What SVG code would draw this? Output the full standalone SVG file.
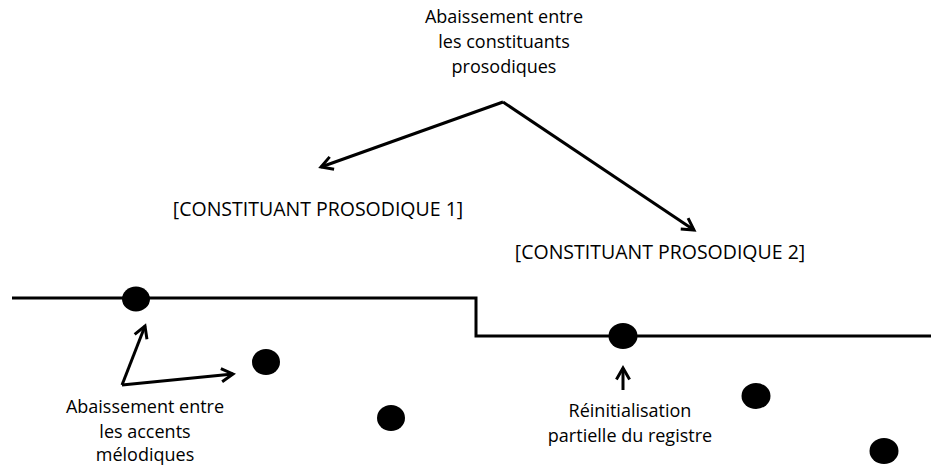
<svg xmlns="http://www.w3.org/2000/svg" width="931" height="465" viewBox="0 0 931 465">
<style>
text{font-family:"Open Sans","Noto Sans",sans-serif;font-size:18px;fill:#000;text-anchor:middle}
.cp{font-size:19.5px}
.ln{fill:none;stroke:#000;stroke-width:3}
.arr{fill:none;stroke:#000;stroke-width:3;marker-end:url(#ah)}
.dot{fill:#000}
</style>
<defs>
<marker id="ah" viewBox="0 0 10 10" refX="8" refY="5" markerWidth="5.5" markerHeight="5.5" orient="auto" markerUnits="strokeWidth">
<path d="M1,1 L8,5 L1,9" fill="none" stroke="#000" stroke-width="1.8"/>
</marker>
</defs>
<g id="label-top">
<text x="504" y="23">Abaissement entre</text>
<text x="504" y="48">les constituants</text>
<text x="504" y="73">prosodiques</text>
</g>
<g id="cp1"><text class="cp" x="318" y="216">[CONSTITUANT PROSODIQUE 1]</text></g>
<g id="cp2"><text class="cp" x="660" y="259">[CONSTITUANT PROSODIQUE 2]</text></g>
<g id="register">
<path class="ln" d="M12,298 H476 V336 H931"/>
</g>
<g id="dots">
<ellipse class="dot" cx="136" cy="299" rx="14" ry="12.5"/>
<ellipse class="dot" cx="266" cy="362" rx="14" ry="13"/>
<ellipse class="dot" cx="391" cy="418" rx="14" ry="13"/>
<ellipse class="dot" cx="623" cy="336" rx="14.5" ry="13"/>
<ellipse class="dot" cx="756" cy="396" rx="14.5" ry="13"/>
<ellipse class="dot" cx="884" cy="451" rx="14.5" ry="13"/>
</g>
<g id="label-accents">
<text x="145" y="413">Abaissement entre</text>
<text x="145" y="438">les accents</text>
<text x="145" y="461">mélodiques</text>
</g>
<g id="label-reinit">
<text x="630" y="417">Réinitialisation</text>
<text x="630" y="442">partielle du registre</text>
</g>
<g id="connectors">
<path class="arr" d="M503,102 L321,167"/>
<path class="arr" d="M503,102 L694,230"/>
<path class="arr" d="M122,385 L145,326"/>
<path class="arr" d="M122,385 L233,374"/>
<path class="arr" d="M623,390 L623,368"/>
</g>
</svg>
